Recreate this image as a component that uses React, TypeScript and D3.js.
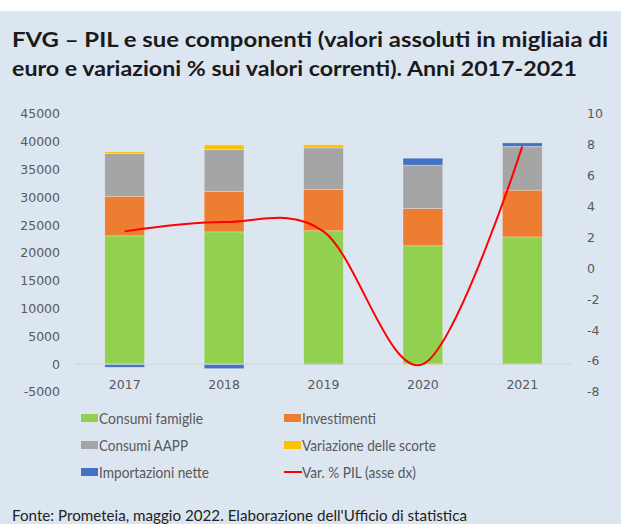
import { useEffect } from "react";
import * as d3 from "d3";

const YEARS = ["2017", "2018", "2019", "2020", "2021"];

const SERIES = [
  { key: "famiglie", label: "Consumi famiglie", color: "#92d050" },
  { key: "investimenti", label: "Investimenti", color: "#ed7d31" },
  { key: "aapp", label: "Consumi AAPP", color: "#a5a5a5" },
  { key: "scorte", label: "Variazione delle scorte", color: "#ffc000" },
  { key: "importazioni", label: "Importazioni nette", color: "#4472c4" },
];

const CONSUMI_FAMIGLIE = [23100, 23800, 24000, 21300, 22900];
const INVESTIMENTI = [7100, 7300, 7400, 6700, 8400];
const CONSUMI_AAPP = [7700, 7500, 7500, 7800, 7800];
const VAR_SCORTE = [300, 850, 550, -200, 50];
const IMPORT_NETTE = [-550, -800, -120, 1250, 650];
const VAR_PIL = [2.4, 3.0, 2.4, -6.2, 7.9];

const LEFT_TICKS = [-5000, 0, 5000, 10000, 15000, 20000, 25000, 30000, 35000, 40000, 45000];
const RIGHT_TICKS = [-8, -6, -4, -2, 0, 2, 4, 6, 8, 10];

const BG = "#dce6f1";
const TICK_COLOR = "#595959";

// legend label widths as they appear in the reference (narrow font)
const LEGEND_WIDTHS: Record<string, number> = {
  famiglie: 104,
  investimenti: 74,
  aapp: 89,
  scorte: 134,
  importazioni: 110,
  pil: 114,
};

export default function App() {
  useEffect(() => {
    document.body.style.margin = "0";
  }, []);

  const width = 621;
  const height = 524;

  const x = d3.scaleBand().domain(YEARS).range([75, 572]).paddingInner(0.6).paddingOuter(0.3);
  const yL = d3.scaleLinear().domain([-5000, 45000]).range([392, 114]);
  const yR = d3.scaleLinear().domain([-8, 10]).range([392, 114]);

  const rows = YEARS.map((year, i) => ({
    year,
    famiglie: CONSUMI_FAMIGLIE[i],
    investimenti: INVESTIMENTI[i],
    aapp: CONSUMI_AAPP[i],
    scorte: VAR_SCORTE[i],
    importazioni: IMPORT_NETTE[i],
  }));

  const stacked = d3
    .stack<any>()
    .keys(SERIES.map((s) => s.key))
    .offset(d3.stackOffsetDiverging)(rows);

  const line = d3
    .line<number>()
    .x((_, i) => x(YEARS[i])! + x.bandwidth() / 2)
    .y((d) => yR(d))
    .curve(d3.curveCardinal.tension(0));

  const legendRows = [
    [SERIES[0], SERIES[1]],
    [SERIES[2], SERIES[3]],
    [SERIES[4], { key: "pil", label: "Var. % PIL (asse dx)", color: "#ff0000" }],
  ];

  return (
    <div style={{ position: "absolute", left: 0, top: 0 }}>
      <svg width={width} height={height} style={{ display: "block" }}>
        <rect x={0} y={0} width={width} height={height} fill="#ffffff" />
        <rect x={0} y={11} width={width} height={height - 11} fill={BG} />

        {/* title */}
        <g fontFamily="Lato, sans-serif" fontWeight={700} fontSize={21} fill="#1a1a1a">
          <text x={12} y={47} textLength={596} lengthAdjust="spacingAndGlyphs">
            FVG – PIL e sue componenti (valori assoluti in migliaia di
          </text>
          <text x={12} y={76} textLength={565} lengthAdjust="spacingAndGlyphs">
            euro e variazioni % sui valori correnti). Anni 2017-2021
          </text>
        </g>

        {/* axes labels */}
        <g fontFamily="DejaVu Sans, sans-serif" fontSize={12.5} fill={TICK_COLOR}>
          {LEFT_TICKS.map((t) => (
            <text key={t} x={60} y={yL(t)} dy="0.35em" textAnchor="end">
              {t}
            </text>
          ))}
          {RIGHT_TICKS.map((t) => (
            <text key={t} x={587} y={yR(t)} dy="0.35em" textAnchor="start">
              {t}
            </text>
          ))}
          {YEARS.map((yr) => (
            <text key={yr} x={x(yr)! + x.bandwidth() / 2} y={385} dy="0.35em" textAnchor="middle">
              {yr}
            </text>
          ))}
        </g>

        {/* bars */}
        {stacked.map((layer, si) => (
          <g key={layer.key} fill={SERIES[si].color}>
            {layer.map((d, i) => {
              const y0 = yL(d[0]);
              const y1 = yL(d[1]);
              return (
                <rect
                  key={i}
                  x={x(YEARS[i])}
                  width={x.bandwidth()}
                  y={Math.min(y0, y1)}
                  height={Math.abs(y0 - y1)}
                  stroke="#ffffff"
                  strokeOpacity={0.35}
                  strokeWidth={0.75}
                />
              );
            })}
          </g>
        ))}

        {/* zero line */}
        <line x1={75} x2={572} y1={yL(0)} y2={yL(0)} stroke="#d0d4da" strokeWidth={1} />

        {/* PIL line */}
        <path d={line(VAR_PIL) ?? ""} fill="none" stroke="#ff0000" strokeWidth={2} />

        {/* legend */}
        <g fontFamily="Lato, sans-serif" fontSize={16} fill={TICK_COLOR}>
          {legendRows.map((row, ri) =>
            row.map((item, ci) => {
              const lx = ci === 0 ? 81 : 284;
              const ly = 418 + ri * 27;
              return (
                <g key={item.key}>
                  {item.key === "pil" ? (
                    <line x1={lx} x2={lx + 18} y1={ly} y2={ly} stroke={item.color} strokeWidth={2} />
                  ) : (
                    <rect x={lx} y={ly - 4} width={17} height={8} fill={item.color} />
                  )}
                  <text
                    x={lx + 18}
                    y={ly}
                    dy="0.35em"
                    textLength={LEGEND_WIDTHS[item.key]}
                    lengthAdjust="spacingAndGlyphs"
                  >
                    {item.label}
                  </text>
                </g>
              );
            })
          )}
        </g>

        {/* source */}
        <text
          x={12}
          y={521}
          fontFamily="Lato, sans-serif"
          fontSize={16}
          fill="#222222"
          textLength={455}
          lengthAdjust="spacingAndGlyphs"
        >
          Fonte: Prometeia, maggio 2022.  Elaborazione dell'Ufficio di statistica
        </text>
      </svg>
    </div>
  );
}
